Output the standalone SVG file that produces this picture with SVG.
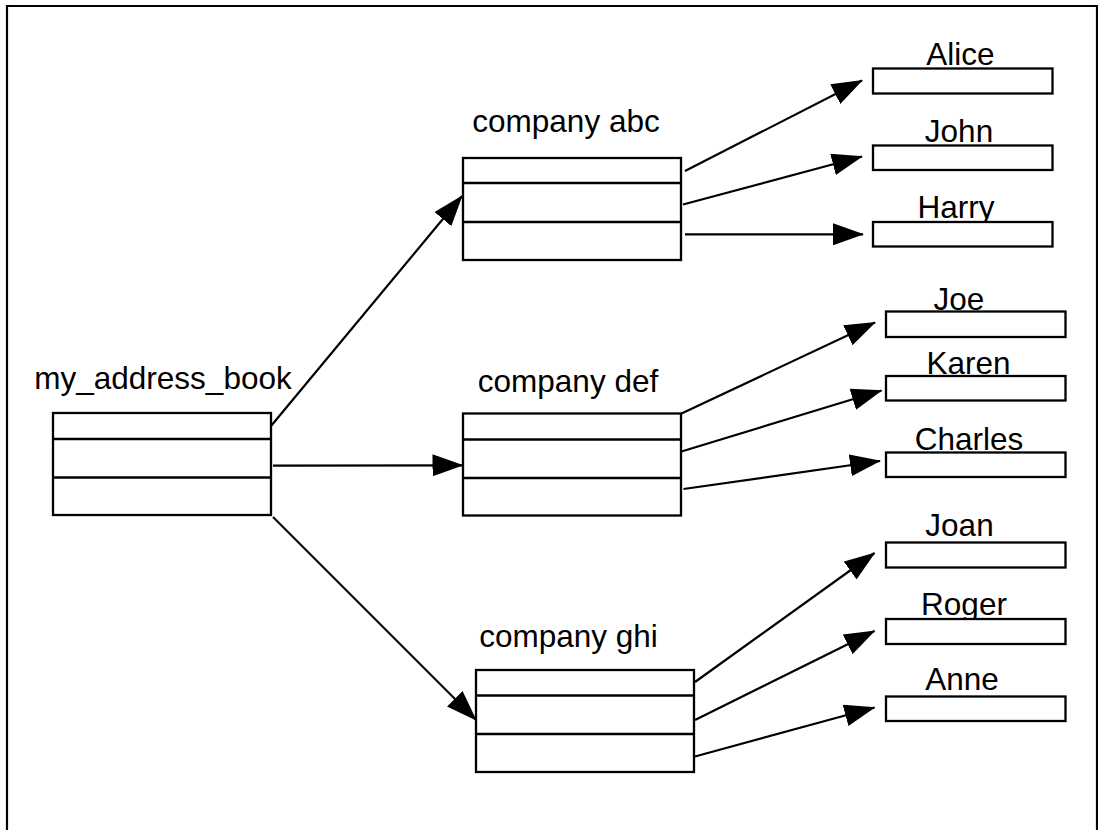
<svg xmlns="http://www.w3.org/2000/svg" width="1098" height="830" viewBox="0 0 1098 830">
  <style>
    .box { fill: #fff; stroke: #000; stroke-width: 2.3; }
    .div { stroke: #000; stroke-width: 2.3; fill: none; }
    .lbl { font-family: "Liberation Sans", Arial, Helvetica, sans-serif; font-size: 31.5px; fill: #000; text-anchor: middle; }
    .conn { stroke: #000; stroke-width: 2.2; fill: none; marker-end: url(#head); }
  </style>
  <defs>
    <marker id="head" markerUnits="userSpaceOnUse" markerWidth="31" markerHeight="22" refX="30" refY="11" orient="auto">
      <path d="M0,0 L31,11 L0,22 z" fill="#000"/>
    </marker>
  </defs>

  <rect width="1098" height="830" fill="#fff"/>
  <!-- page frame (open at the bottom) -->
  <path d="M7,830 V6 H1097 V830" fill="none" stroke="#000" stroke-width="2.2"/>

  <!-- root record -->
  <g id="my_address_book">
    <text class="lbl" x="163" y="389">my_address_book</text>
    <rect class="box" x="53" y="413" width="218" height="102"/>
    <path class="div" d="M53,439 H271 M53,477.5 H271"/>
  </g>

  <!-- company records -->
  <g id="company_abc">
    <text class="lbl" x="566" y="132">company abc</text>
    <rect class="box" x="463" y="158" width="218" height="102"/>
    <path class="div" d="M463,183 H681 M463,222 H681"/>
  </g>
  <g id="company_def">
    <text class="lbl" x="568" y="392">company def</text>
    <rect class="box" x="463" y="413.5" width="218" height="102"/>
    <path class="div" d="M463,439.5 H681 M463,478 H681"/>
  </g>
  <g id="company_ghi">
    <text class="lbl" x="568.5" y="647">company ghi</text>
    <rect class="box" x="476" y="670" width="218" height="102"/>
    <path class="div" d="M476,695.5 H694 M476,734 H694"/>
  </g>

  <!-- people -->
  <g id="alice">
    <text class="lbl" x="960.5" y="65">Alice</text>
    <rect class="box" x="873" y="68.5" width="179.5" height="25"/>
  </g>
  <g id="john">
    <text class="lbl" x="959" y="142">John</text>
    <rect class="box" x="873" y="145.5" width="179.5" height="24.5"/>
  </g>
  <g id="harry">
    <text class="lbl" x="956" y="218">Harry</text>
    <rect class="box" x="873" y="222" width="179.5" height="24.5"/>
  </g>
  <g id="joe">
    <text class="lbl" x="959" y="310">Joe</text>
    <rect class="box" x="886" y="311.5" width="179.5" height="25.5"/>
  </g>
  <g id="karen">
    <text class="lbl" x="968.5" y="374">Karen</text>
    <rect class="box" x="886" y="376" width="179.5" height="24.5"/>
  </g>
  <g id="charles">
    <text class="lbl" x="969" y="450">Charles</text>
    <rect class="box" x="886" y="452.5" width="179.5" height="24.5"/>
  </g>
  <g id="joan">
    <text class="lbl" x="959.5" y="536">Joan</text>
    <rect class="box" x="886" y="542.5" width="179.5" height="25"/>
  </g>
  <g id="roger">
    <text class="lbl" x="964" y="615">Roger</text>
    <rect class="box" x="886" y="619" width="179.5" height="25"/>
  </g>
  <g id="anne">
    <text class="lbl" x="962" y="690">Anne</text>
    <rect class="box" x="886" y="696.5" width="179.5" height="24.5"/>
  </g>

  <!-- connectors -->
  <g id="connectors">
    <path class="conn" d="M271,426 L462,196"/>
    <path class="conn" d="M273,465.7 L462.5,465.3"/>
    <path class="conn" d="M273,517 L476,720"/>

    <path class="conn" d="M685,171 L862,80.5"/>
    <path class="conn" d="M683,204.5 L862,156.5"/>
    <path class="conn" d="M685,234.3 L863,234.3"/>

    <path class="conn" d="M681.5,413.5 L875,322.5"/>
    <path class="conn" d="M681.5,451.5 L881.5,390.5"/>
    <path class="conn" d="M683.5,489 L880,461"/>

    <path class="conn" d="M695,682 L874.5,553"/>
    <path class="conn" d="M695,720 L874.5,631"/>
    <path class="conn" d="M695,756.5 L874.5,707.5"/>
  </g>
</svg>
